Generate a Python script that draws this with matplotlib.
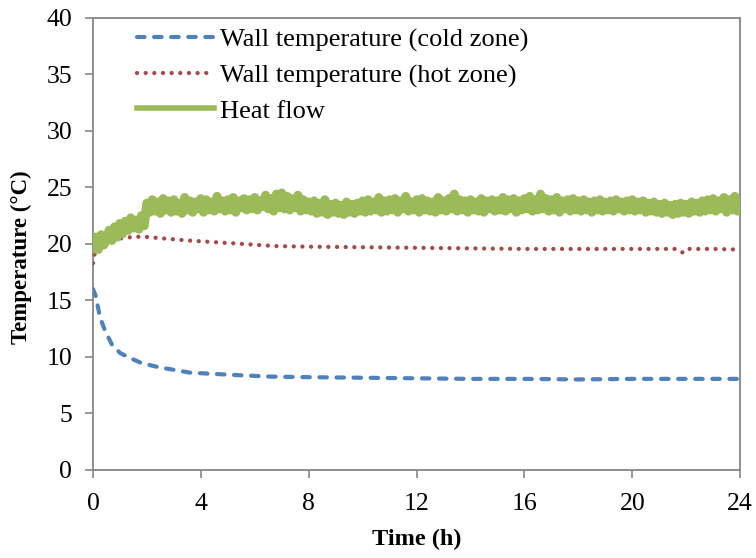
import numpy as np
import matplotlib
matplotlib.use("Agg")
import matplotlib.pyplot as plt

plt.rcParams["font.family"] = ["Liberation Serif", "DejaVu Serif"]

# wall temperature, cold zone (h, degC)
cold_t = [0.0, 0.1, 0.26, 0.45, 0.7, 1.0, 1.37, 1.8, 2.4, 3.0, 3.6, 4.4, 5.2, 6.6,
          8.0, 10.0, 12.0, 14.0, 16.0, 18.0, 20.0, 22.0, 24.0]
cold_v = [16.0, 15.4, 13.5, 12.3, 11.1, 10.35, 9.9, 9.45, 9.1, 8.85, 8.6, 8.5, 8.4, 8.25,
          8.2, 8.15, 8.1, 8.05, 8.05, 8.0, 8.05, 8.05, 8.05]

# wall temperature, hot zone
hot_t = [0.0, 0.1, 0.3, 0.7, 1.2, 1.8, 2.5, 3.5, 4.5, 5.5, 6.8, 8.0, 10.0, 12.0,
         14.0, 16.0, 18.0, 20.0, 21.6, 21.9, 22.1, 23.0, 23.8, 24.0]
hot_v = [18.3, 19.6, 20.1, 20.35, 20.55, 20.65, 20.5, 20.3, 20.15, 20.0, 19.8, 19.75, 19.7, 19.65,
         19.6, 19.55, 19.55, 19.55, 19.55, 19.2, 19.55, 19.55, 19.5, 19.3]

# heat flow, sampled every 0.1 h
flow_t = np.round(np.arange(0, 24.05, 0.1), 1)
flow_v = [
    19.6, 20.6, 19.5, 20.8, 19.9, 20.4, 21.2, 20.3, 21.5, 20.6,
    21.8, 20.9, 22.0, 21.2, 22.3, 21.4, 22.1, 21.3, 22.5, 21.6,
    23.6, 22.8, 23.9, 22.9, 23.7, 22.7, 24.0, 23.0, 23.8, 22.8,
    23.9, 22.9, 23.6, 22.7, 24.1, 23.0, 23.8, 22.8, 23.7, 23.1,
    24.0, 22.8, 23.9, 23.0, 23.7, 22.9, 24.2, 23.1, 23.8, 22.9,
    23.9, 23.0, 24.1, 22.8, 23.8, 23.2, 24.0, 23.0, 23.9, 23.1,
    24.1, 23.0, 23.8, 23.3, 24.3, 23.1, 24.0, 22.9, 24.4, 23.2,
    24.5, 23.1, 24.2, 23.0, 24.0, 23.2, 24.3, 22.9, 23.9, 23.0,
    23.7, 22.9, 23.8, 22.7, 23.6, 22.8, 23.9, 22.6, 23.5, 22.8,
    23.6, 22.7, 23.4, 22.6, 23.7, 22.8, 23.5, 22.7, 23.6, 22.9,
    23.8, 22.8, 23.9, 22.9, 23.7, 23.0, 24.1, 22.8, 23.8, 22.9,
    23.9, 23.0, 24.0, 22.8, 23.8, 23.1, 24.2, 22.9, 23.7, 23.0,
    23.9, 22.8, 24.0, 23.0, 23.8, 22.9, 23.7, 22.8, 24.1, 23.0,
    23.8, 22.9, 24.0, 23.1, 24.4, 22.9, 23.9, 23.0, 23.8, 22.8,
    23.9, 23.0, 23.7, 22.9, 24.0, 22.8, 23.8, 23.1, 23.9, 22.9,
    23.8, 23.0, 24.1, 22.9, 23.9, 23.1, 24.0, 22.8, 23.8, 23.0,
    24.0, 23.1, 24.2, 22.9, 23.9, 23.0, 24.4, 23.1, 24.0, 22.9,
    23.9, 23.0, 24.1, 22.8, 23.8, 23.1, 23.9, 22.9, 24.0, 23.0,
    23.8, 22.9, 23.9, 23.0, 23.7, 22.8, 23.8, 23.0, 23.9, 22.9,
    23.7, 23.0, 23.8, 22.9, 23.9, 23.1, 23.7, 22.9, 23.8, 23.0,
    23.9, 22.9, 23.7, 23.0, 23.8, 22.8, 23.6, 22.9, 23.7, 22.8,
    23.5, 22.7, 23.6, 22.8, 23.4, 22.6, 23.5, 22.7, 23.6, 22.8,
    23.5, 22.7, 23.7, 22.9, 23.6, 22.8, 23.8, 22.9, 23.9, 23.0,
    24.0, 22.9, 23.8, 23.1, 24.1, 22.8, 23.9, 23.0, 24.2, 22.9,
    23.6,
]

x_ticks = [0, 4, 8, 12, 16, 20, 24]
y_ticks = [0, 5, 10, 15, 20, 25, 30, 35, 40]

fig = plt.figure(figsize=(7.56, 5.58), dpi=100)
ax = fig.add_axes([0.123, 0.158, 0.856, 0.81])

ax.plot(cold_t, cold_v, color="#4F81BD", lw=3.0, linestyle=(0, (1.8, 2.3)),
        dash_capstyle="round", label="Wall temperature (cold zone)", zorder=3)
ax.plot(hot_t, hot_v, color="#A94848", lw=3.1, linestyle=(0, (0.01, 2.0)),
        dash_capstyle="round", label="Wall temperature (hot zone)", zorder=3)
ax.plot(flow_t, flow_v, color="#9BBB59", lw=6.5, solid_joinstyle="round",
        label="Heat flow", zorder=4)

ax.set_xlim(0, 24)
ax.set_ylim(0, 40)
ax.set_xticks(x_ticks)
ax.set_yticks(y_ticks)
ax.tick_params(labelsize=18.5, color="#868686", width=1.2, length=6)
ax.tick_params(axis="x", pad=11)
ax.tick_params(axis="y", pad=9)
for s in ax.spines.values():
    s.set_color("#868686")
    s.set_linewidth(1.3)

ax.set_xlabel("Time (h)", fontsize=17.5, fontweight="bold", labelpad=10)
ax.set_ylabel("Temperature (°C)", fontsize=16.5, fontweight="bold")
ax.yaxis.set_label_coords(-0.094, 0.47)

leg = ax.legend(loc="upper left", bbox_to_anchor=(0.068, 0.977), frameon=False,
                fontsize=19, handlelength=2.9, handletextpad=0.25, labelspacing=0.44,
                borderaxespad=0, borderpad=0)
leg.get_lines()[2].set_linewidth(4)

fig.savefig("out.png", dpi=100)
